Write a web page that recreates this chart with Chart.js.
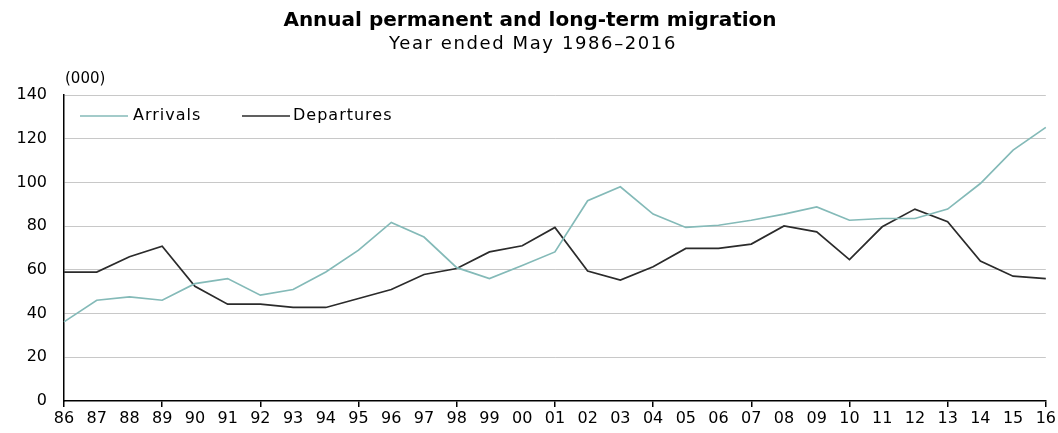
<!DOCTYPE html>
<html>
<head>
<meta charset="utf-8">
<script src="https://cdn.jsdelivr.net/npm/chart.js@4"></script>
<style>
  body { margin: 0; background: #fff; }
  #wrap { position: relative; width: 1058px; height: 433px; }
  #title { position: absolute; left: 0; width: 1060px; top: 7px; text-align: center;
    font: bold 20px "DejaVu Sans", sans-serif; color: #000; }
  #subtitle { position: absolute; left: 0; width: 1066px; top: 32px; text-align: center;
    font: 18px "DejaVu Sans", sans-serif; letter-spacing: 1.6px; color: #000; }
  #unit { position: absolute; left: 65px; top: 69px; font: 15px "DejaVu Sans", sans-serif; color: #000; }
</style>
</head>
<body>
<div id="wrap">
  <canvas id="migrationChart" width="1058" height="433"></canvas>
  <div id="title">Annual permanent and long-term migration</div>
  <div id="subtitle">Year ended May 1986–2016</div>
  <div id="unit">(000)</div>
</div>
<script>
const years = ["86","87","88","89","90","91","92","93","94","95","96","97","98","99","00",
  "01","02","03","04","05","06","07","08","09","10","11","12","13","14","15","16"];
const arrivals = [36.2, 46.1, 47.6, 46.1, 53.7, 56, 48.4, 51, 59, 69, 81.7, 75, 61, 56, 62,
  68.2, 91.6, 98, 85.5, 79.4, 80.4, 82.7, 85.5, 88.8, 82.7, 83.5, 83.5, 87.8, 99.5, 114.8, 125.2];
const departures = [59, 59, 66, 70.8, 52.5, 44.3, 44.3, 42.8, 42.8, 46.9, 51, 57.9, 60.6, 68.2, 71,
  79.4, 59.5, 55.3, 61.4, 69.8, 69.8, 71.8, 80.1, 77.4, 64.7, 79.7, 87.8, 82, 64, 57.1, 56];
const seriesNames = ["Arrivals", "Departures"];
const yTicks = [0, 20, 40, 60, 80, 100, 120, 140];

// legend drawn inside the plot area, like the original
const insideLegend = {
  id: "insideLegend",
  afterDraw(chart) {
    const ctx = chart.ctx;
    const area = chart.chartArea;
    const y = area.top + 21;
    const items = [
      { x: area.left + 16, len: 48, gap: 5 },
      { x: area.left + 178, len: 48, gap: 3 },
    ];
    ctx.save();
    ctx.font = '16px "DejaVu Sans", sans-serif';
    ctx.letterSpacing = "1px";
    ctx.textBaseline = "middle";
    chart.data.datasets.forEach((ds, i) => {
      const it = items[i];
      ctx.strokeStyle = ds.borderColor;
      ctx.lineWidth = 1.6;
      ctx.beginPath();
      ctx.moveTo(it.x, y);
      ctx.lineTo(it.x + it.len, y);
      ctx.stroke();
      ctx.fillStyle = "#000";
      ctx.fillText(ds.label, it.x + it.len + it.gap, y);
    });
    ctx.restore();
  },
};

new Chart(document.getElementById("migrationChart").getContext("2d"), {
  type: "line",
  data: {
    labels: years,
    datasets: [
      { label: seriesNames[0], data: arrivals, borderColor: "#84bab8", borderWidth: 1.7,
        pointRadius: 0, tension: 0 },
      { label: seriesNames[1], data: departures, borderColor: "#2b2b2b", borderWidth: 1.7,
        pointRadius: 0, tension: 0 },
    ],
  },
  options: {
    responsive: false,
    animation: false,
    layout: { padding: { top: 95, right: 11, left: 0, bottom: 0 } },
    plugins: { legend: { display: false }, tooltip: { enabled: false } },
    scales: {
      x: {
        offset: false,
        afterFit: (s) => { s.height = 32; },
        grid: {
          drawOnChartArea: false,
          tickLength: 6,
          lineWidth: 1.5,
          color: (c) => (c.index % 3 === 0 ? "#000" : "rgba(0,0,0,0)"),
        },
        border: { display: true, color: "#000", width: 1.5 },
        ticks: {
          color: "#000",
          font: { family: "DejaVu Sans", size: 16 },
          padding: 2,
          maxRotation: 0,
          autoSkip: false,
        },
      },
      y: {
        min: 0,
        max: 140,
        afterFit: (s) => { s.width = 64; },
        afterBuildTicks: (s) => { s.ticks = yTicks.map((v) => ({ value: v })); },
        grid: {
          drawTicks: false,
          color: (c) => (c.tick && c.tick.value === 0 ? "rgba(0,0,0,0)" : "#c8c8c8"),
          lineWidth: 1,
        },
        border: { display: true, color: "#000", width: 1.5 },
        ticks: {
          color: "#000",
          font: { family: "DejaVu Sans", size: 16 },
          padding: 17,
        },
      },
    },
  },
  plugins: [insideLegend],
});
</script>
</body>
</html>
